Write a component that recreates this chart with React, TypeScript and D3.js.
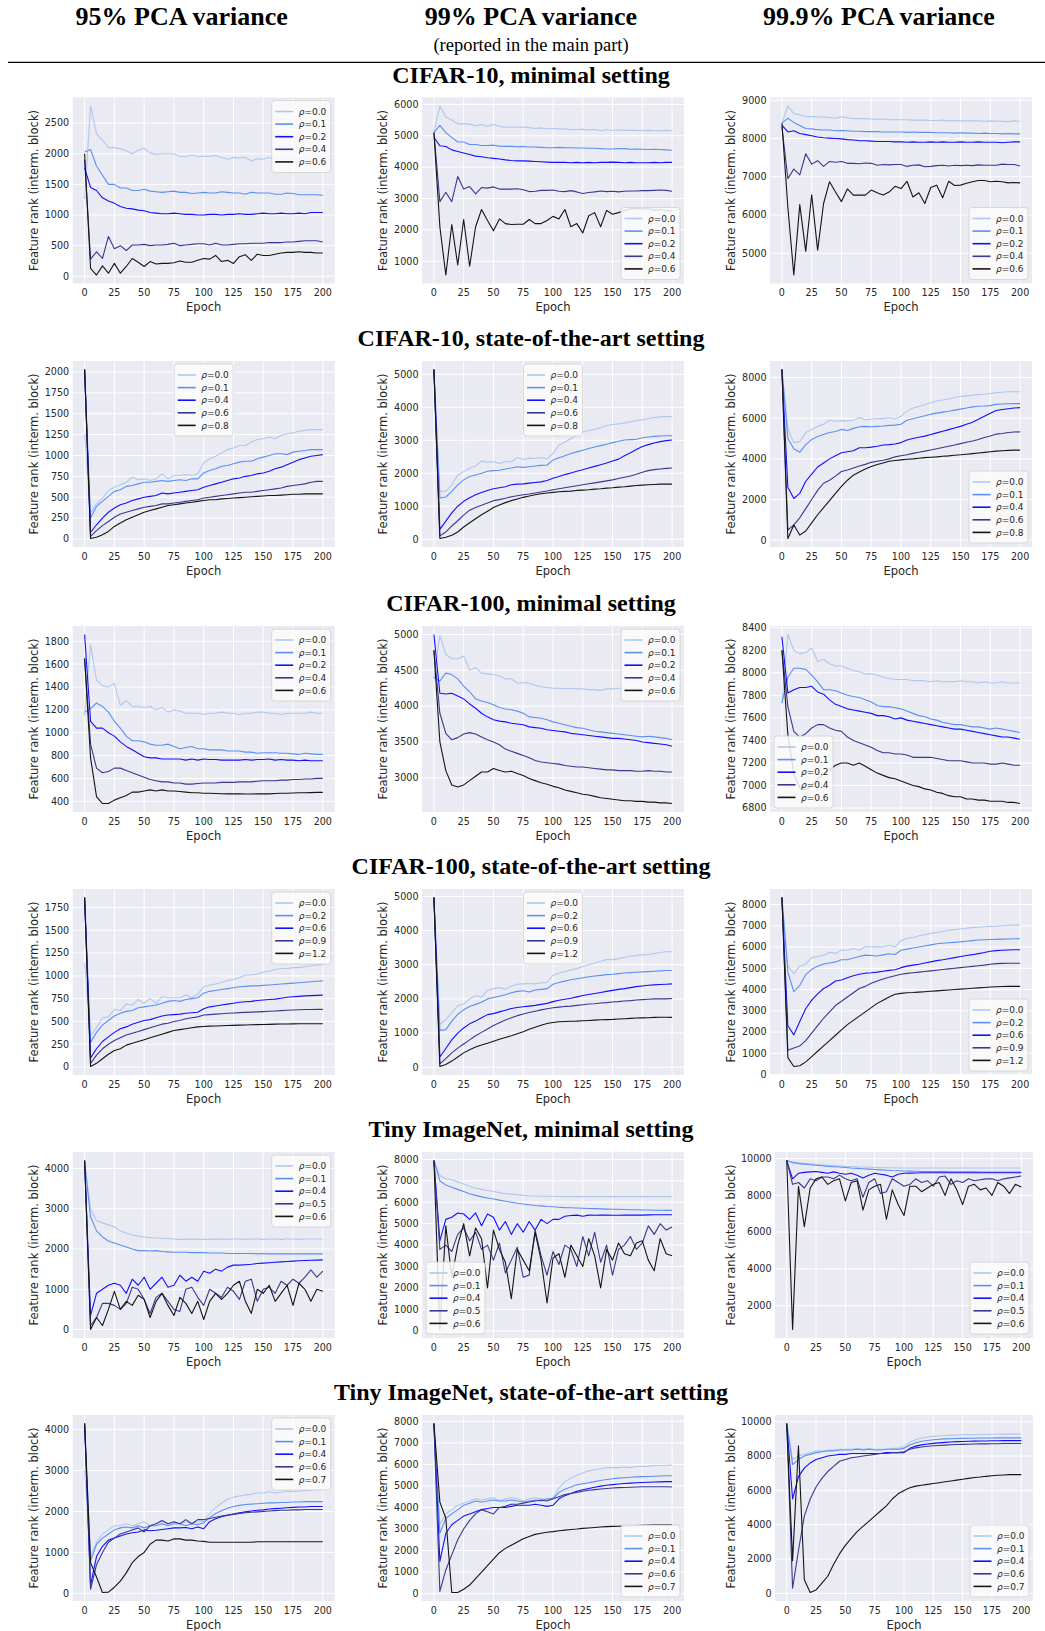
import React from "react";
import * as d3 from "d3";

// epochs at which every series below is sampled
const epochs = d3.range(0, 201, 5);
const xTicks = d3.range(0, 201, 25);

const colHeaders = ["95% PCA variance", "99% PCA variance", "99.9% PCA variance"];
const rowTitles = [
  "CIFAR-10, minimal setting",
  "CIFAR-10, state-of-the-art setting",
  "CIFAR-100, minimal setting",
  "CIFAR-100, state-of-the-art setting",
  "Tiny ImageNet, minimal setting",
  "Tiny ImageNet, state-of-the-art setting",
];
const rhoLabels = [
  ["0.0", "0.1", "0.2", "0.4", "0.6"],
  ["0.0", "0.1", "0.4", "0.6", "0.8"],
  ["0.0", "0.1", "0.2", "0.4", "0.6"],
  ["0.0", "0.2", "0.6", "0.9", "1.2"],
  ["0.0", "0.1", "0.4", "0.5", "0.6"],
  ["0.0", "0.1", "0.4", "0.6", "0.7"],
];
const lineColors = ["#aec8ef", "#5a90f2", "#1010ff", "#383892", "#151515"];

// ---- CIFAR-10 minimal ----
const c10Min95 = [
  [1260,2780,2330,2220,2100,2100,2080,2050,2000,2060,2090,2010,1990,2000,2000,2000,1960,1950,1980,1950,1960,1960,1970,1940,1910,1940,1930,1940,1880,1920,1910,1940,1920,1920,1910,1920,1910,1920,1910,1920,1920],
  [2030,2070,1800,1650,1500,1500,1440,1440,1400,1400,1420,1390,1380,1370,1380,1390,1370,1370,1350,1360,1370,1360,1360,1380,1370,1360,1360,1340,1370,1360,1360,1360,1340,1340,1360,1350,1330,1330,1330,1330,1320],
  [1770,1450,1400,1280,1230,1190,1140,1110,1100,1080,1070,1040,1030,1020,1020,1030,1020,1010,1010,1000,1000,1010,1010,1000,1010,1010,1020,1010,1010,1020,1030,1020,1020,1030,1020,1020,1030,1020,1040,1040,1040],
  [1900,280,400,290,650,450,500,420,510,510,520,500,510,510,520,540,500,510,520,530,530,510,540,510,510,520,530,530,540,540,540,550,550,550,560,560,570,580,580,580,560],
  [2000,130,20,170,50,210,50,160,290,230,160,240,200,210,210,220,250,230,230,260,290,280,340,240,260,210,320,350,260,360,340,340,360,380,390,390,400,390,390,380,380],
];
const c10Min99 = [
  [5100,5950,5600,5500,5380,5380,5370,5320,5360,5300,5360,5300,5270,5280,5270,5280,5260,5230,5250,5220,5240,5220,5220,5190,5200,5210,5180,5200,5160,5190,5170,5190,5170,5180,5170,5160,5170,5160,5160,5170,5160],
  [5100,5330,5100,4950,4800,4800,4720,4720,4690,4690,4700,4670,4660,4660,4650,4660,4640,4640,4630,4620,4620,4630,4620,4620,4610,4610,4600,4600,4590,4580,4580,4590,4590,4570,4580,4570,4560,4570,4560,4550,4540],
  [4950,4680,4660,4550,4500,4450,4400,4350,4330,4300,4280,4260,4230,4210,4200,4200,4190,4180,4170,4160,4150,4150,4150,4140,4150,4140,4150,4140,4150,4150,4160,4150,4140,4150,4140,4140,4140,4150,4140,4150,4150],
  [5100,2900,3200,2900,3700,3300,3380,3150,3350,3330,3370,3300,3300,3300,3310,3280,3220,3230,3260,3260,3270,3230,3220,3250,3210,3160,3190,3210,3240,3220,3230,3210,3230,3240,3240,3250,3250,3260,3270,3260,3230],
  [5100,2100,560,2170,880,2330,840,2100,2650,2300,1970,2350,2200,2170,2180,2180,2330,2200,2200,2300,2430,2350,2650,2100,2200,1900,2450,2550,2100,2620,2500,2550,2620,2670,2680,2670,2680,2630,2650,2620,2600],
];
const c10Min999 = [
  [8400,8850,8650,8620,8570,8570,8560,8560,8550,8530,8570,8540,8520,8520,8520,8510,8500,8510,8490,8490,8490,8490,8480,8480,8480,8470,8470,8480,8460,8470,8460,8460,8460,8460,8450,8460,8450,8450,8440,8460,8450],
  [8400,8530,8420,8340,8260,8250,8230,8220,8220,8200,8210,8200,8190,8190,8180,8180,8180,8170,8170,8170,8170,8160,8170,8160,8160,8160,8150,8150,8150,8140,8150,8140,8140,8130,8140,8130,8130,8120,8130,8120,8120],
  [8350,8170,8200,8130,8100,8070,8040,8020,8010,8000,7990,7970,7960,7940,7940,7930,7920,7920,7920,7910,7910,7900,7910,7900,7900,7910,7900,7910,7900,7900,7910,7900,7900,7910,7900,7900,7900,7890,7900,7910,7910],
  [8300,6950,7200,7050,7600,7330,7420,7270,7400,7380,7400,7350,7350,7340,7360,7350,7300,7320,7310,7320,7320,7270,7300,7310,7260,7270,7290,7300,7280,7300,7290,7300,7290,7310,7300,7300,7300,7330,7320,7320,7280],
  [8400,6200,4430,6270,5050,6530,5080,6300,6870,6600,6350,6680,6520,6520,6520,6650,6580,6520,6600,6750,6690,6880,6470,6580,6300,6720,6780,6450,6880,6770,6780,6830,6870,6900,6900,6870,6880,6870,6840,6850,6840],
];

// ---- CIFAR-10 state-of-the-art ----
const c10Sota95 = [
  [1250,310,420,490,580,620,650,680,740,710,720,700,720,780,720,760,760,770,760,780,910,960,990,1030,1070,1090,1120,1120,1160,1190,1200,1220,1200,1240,1260,1270,1290,1300,1310,1310,1310],
  [2030,250,390,450,510,570,590,630,640,660,680,680,690,700,690,700,710,700,720,720,790,820,840,870,880,900,920,930,930,960,980,1000,1020,1020,1010,1040,1050,1060,1070,1070,1070],
  [2030,80,170,250,320,370,410,430,460,480,500,510,520,550,540,550,560,570,580,590,620,640,660,680,700,720,730,750,760,780,790,810,840,860,890,920,950,970,990,1000,1010],
  [2030,30,100,160,210,260,300,320,340,360,380,390,400,420,420,430,440,450,460,470,490,500,510,520,530,540,550,560,560,570,580,590,600,610,630,640,650,660,680,690,690],
  [2030,5,20,50,90,150,190,230,260,290,320,340,360,380,400,410,420,430,440,450,460,470,470,480,485,490,495,500,505,510,515,520,520,525,530,535,535,540,540,540,540],
];
const c10Sota99 = [
  [5150,1450,1450,1650,1950,2050,2150,2220,2370,2330,2350,2300,2350,2350,2480,2420,2460,2450,2480,2440,2600,2850,2950,3050,3150,3250,3300,3330,3380,3450,3480,3500,3530,3560,3600,3620,3660,3690,3710,3720,3720],
  [5150,1250,1280,1450,1650,1800,1900,1950,2000,2060,2080,2090,2130,2160,2200,2180,2200,2220,2240,2250,2400,2470,2530,2600,2650,2700,2750,2800,2840,2880,2930,2970,3010,3020,3030,3080,3100,3120,3130,3140,3140],
  [5150,300,550,800,1000,1150,1260,1350,1420,1480,1530,1560,1590,1650,1670,1680,1700,1720,1740,1780,1850,1900,1960,2010,2060,2110,2160,2210,2260,2310,2370,2430,2530,2620,2720,2810,2870,2920,2960,2990,3010],
  [5150,100,220,400,560,730,880,960,1030,1100,1170,1200,1240,1290,1320,1350,1370,1400,1430,1460,1500,1530,1560,1590,1620,1650,1680,1710,1740,1770,1800,1840,1880,1920,1970,2030,2080,2110,2130,2150,2160],
  [5150,20,60,120,220,370,500,620,740,850,960,1040,1110,1170,1220,1270,1310,1350,1380,1400,1420,1440,1450,1460,1480,1490,1500,1520,1530,1550,1560,1580,1590,1610,1630,1640,1650,1660,1670,1670,1670],
];
const c10Sota999 = [
  [8400,5500,4800,4850,5300,5450,5600,5700,5900,5850,5880,5860,5900,6030,5920,5960,5980,5980,6020,5960,6100,6350,6500,6580,6680,6760,6850,6900,6950,7020,7070,7100,7130,7160,7180,7220,7260,7280,7300,7300,7300],
  [8400,5000,4500,4330,4700,4950,5100,5200,5300,5350,5450,5400,5500,5580,5600,5580,5600,5620,5650,5660,5700,5900,5970,6050,6120,6200,6250,6300,6340,6400,6450,6500,6560,6590,6600,6620,6680,6700,6710,6720,6720],
  [8400,2600,2050,2300,2900,3250,3600,3800,4000,4150,4300,4350,4400,4550,4550,4580,4620,4680,4700,4730,4800,4930,5000,5060,5120,5200,5280,5360,5440,5520,5600,5700,5800,5950,6100,6250,6380,6430,6470,6500,6520],
  [8400,500,750,1100,1550,2000,2450,2800,2950,3150,3380,3450,3550,3650,3730,3830,3880,3930,4000,4100,4150,4200,4270,4330,4380,4440,4500,4560,4620,4680,4750,4820,4880,4950,5050,5130,5220,5250,5300,5320,5330],
  [8400,80,750,250,450,850,1250,1600,1950,2300,2650,2950,3200,3350,3500,3620,3720,3800,3880,3920,3950,3980,4000,4030,4060,4080,4100,4130,4150,4180,4200,4230,4260,4290,4320,4350,4380,4400,4420,4430,4430],
];

// ---- CIFAR-100 minimal ----
const c100Min95 = [
  [1150,1770,1460,1410,1400,1430,1240,1280,1230,1230,1220,1230,1200,1220,1180,1200,1190,1170,1170,1170,1160,1170,1170,1180,1170,1170,1160,1170,1170,1180,1180,1170,1170,1160,1170,1170,1170,1170,1180,1170,1170],
  [1180,1210,1260,1230,1180,1100,1040,970,930,930,920,900,890,890,900,880,860,870,880,860,860,850,850,850,840,840,840,830,830,820,825,825,825,820,820,815,810,820,815,810,810],
  [1860,1100,1040,1040,1000,970,920,880,850,820,790,780,780,770,770,770,770,760,770,760,770,765,765,760,760,760,760,765,760,765,765,770,760,765,760,760,755,760,755,755,755],
  [1650,900,690,650,660,690,690,670,650,630,610,590,580,570,570,560,560,550,550,555,560,560,560,565,565,565,570,570,570,575,580,580,580,585,585,590,590,595,595,600,600],
  [1650,780,440,380,380,410,430,450,480,480,490,500,490,500,490,490,485,480,475,475,470,470,468,466,465,465,465,463,463,465,465,465,468,470,470,472,474,475,476,478,478],
];
const c100Min99 = [
  [4380,4990,4720,4660,4660,4700,4500,4540,4460,4450,4440,4420,4380,4380,4320,4330,4320,4290,4270,4260,4250,4250,4240,4250,4240,4240,4230,4230,4220,4240,4240,4250,4250,4250,4250,4250,4250,4250,4250,4250,4250],
  [4400,4350,4460,4440,4380,4280,4200,4100,4070,4050,4020,3980,3960,3950,3930,3900,3850,3840,3830,3810,3780,3760,3740,3720,3700,3690,3670,3650,3640,3630,3620,3610,3600,3590,3580,3570,3580,3570,3560,3550,3530],
  [5000,4180,4170,4180,4140,4100,4030,3970,3900,3850,3810,3790,3780,3760,3750,3740,3710,3700,3690,3670,3660,3650,3640,3620,3610,3600,3590,3580,3570,3560,3550,3550,3540,3530,3520,3500,3490,3480,3470,3460,3440],
  [4780,3900,3620,3530,3560,3610,3630,3610,3570,3530,3500,3460,3400,3370,3340,3310,3280,3240,3220,3210,3200,3190,3170,3160,3150,3150,3140,3130,3120,3110,3110,3100,3100,3100,3090,3090,3100,3090,3090,3080,3080],
  [4780,3500,3100,2900,2870,2900,2960,3020,3080,3080,3130,3100,3080,3090,3060,3030,2990,2960,2930,2910,2880,2860,2830,2810,2790,2770,2760,2740,2720,2710,2700,2690,2680,2680,2670,2670,2660,2660,2650,2650,2640],
];
const c100Min999 = [
  [7730,8340,8200,8170,8180,8220,8100,8120,8080,8060,8060,8040,8020,8010,7990,7990,7980,7960,7950,7940,7940,7940,7930,7930,7930,7920,7930,7920,7920,7920,7930,7920,7920,7910,7920,7910,7910,7920,7910,7910,7910],
  [7730,7960,8040,8040,8030,7980,7920,7850,7850,7840,7820,7800,7790,7780,7760,7740,7710,7700,7700,7690,7680,7660,7640,7620,7610,7590,7580,7560,7550,7540,7540,7530,7520,7520,7510,7500,7510,7500,7490,7480,7470],
  [8320,7820,7850,7870,7870,7880,7830,7810,7760,7720,7700,7680,7670,7660,7650,7640,7620,7620,7610,7590,7600,7580,7570,7560,7550,7540,7530,7520,7510,7500,7500,7490,7480,7470,7460,7450,7440,7430,7430,7420,7410],
  [8200,7700,7480,7430,7460,7510,7540,7540,7510,7490,7480,7430,7400,7380,7360,7340,7310,7290,7290,7280,7280,7270,7250,7250,7250,7250,7240,7230,7220,7220,7220,7210,7200,7200,7200,7190,7190,7200,7190,7180,7180],
  [8200,7450,7100,6980,6960,7000,7060,7100,7140,7180,7200,7200,7180,7200,7170,7140,7110,7090,7070,7060,7040,7020,7000,6990,6970,6960,6940,6930,6910,6900,6900,6880,6880,6870,6870,6860,6860,6860,6850,6850,6840],
];

// ---- CIFAR-100 state-of-the-art ----
const c100Sota95 = [
  [1140,340,430,540,550,630,620,690,680,740,700,750,700,770,760,760,760,790,760,800,880,900,910,930,950,960,980,1010,1010,1020,1040,1050,1070,1080,1080,1090,1090,1100,1110,1120,1120],
  [1860,270,380,460,510,560,590,610,620,650,660,670,680,700,720,730,720,740,750,760,810,830,840,850,860,870,880,885,890,890,895,900,905,910,915,920,925,930,935,940,945],
  [1860,100,200,280,330,380,420,440,470,490,510,520,540,560,570,575,580,590,595,600,640,660,670,680,690,700,710,715,720,730,735,740,745,755,765,770,775,780,783,786,788],
  [1860,40,130,200,250,290,320,350,370,390,410,430,450,470,480,500,510,530,540,550,570,575,580,585,590,593,596,599,602,605,608,611,614,618,622,626,628,630,631,632,632],
  [1860,5,40,90,140,180,200,240,260,280,300,320,340,360,380,400,410,420,430,440,445,448,450,452,455,457,459,461,463,465,467,468,470,471,472,473,474,474,475,475,475],
];
const c100Sota99 = [
  [4970,1250,1400,1600,1800,1850,2000,2100,2050,2250,2300,2330,2280,2380,2430,2440,2450,2440,2470,2480,2700,2750,2800,2850,2880,2950,3000,3050,3100,3150,3150,3180,3220,3250,3280,3290,3300,3330,3360,3380,3380],
  [4970,1080,1100,1350,1550,1680,1780,1840,1900,2000,2040,2080,2120,2180,2220,2240,2200,2260,2280,2300,2430,2480,2520,2560,2590,2620,2650,2670,2690,2710,2720,2740,2760,2770,2780,2790,2800,2810,2820,2830,2830],
  [4970,300,550,800,1000,1150,1270,1350,1450,1540,1570,1620,1670,1720,1750,1770,1790,1810,1840,1870,1920,1960,1990,2020,2060,2100,2130,2160,2190,2220,2250,2280,2300,2330,2360,2380,2400,2410,2420,2430,2440],
  [4970,100,250,420,560,680,800,920,1020,1120,1220,1300,1380,1450,1510,1560,1600,1640,1680,1710,1740,1760,1780,1790,1810,1830,1850,1860,1880,1890,1910,1920,1940,1950,1970,1980,1990,2000,2000,2000,2010],
  [4970,20,80,180,300,420,510,590,650,700,760,820,870,920,980,1040,1110,1170,1230,1280,1310,1330,1340,1345,1350,1360,1370,1380,1390,1395,1400,1410,1420,1430,1440,1445,1450,1460,1465,1465,1460],
];
const c100Sota999 = [
  [8330,5100,4750,5100,5200,5500,5550,5600,5750,5700,5850,5850,5930,5850,6020,6000,6020,6000,6080,6000,6300,6400,6450,6530,6580,6640,6680,6730,6790,6820,6850,6880,6910,6930,6950,6970,6980,7000,7020,7030,7030],
  [8330,4800,3900,4200,4700,4950,5100,5200,5250,5300,5400,5400,5480,5550,5620,5600,5580,5630,5680,5650,5850,5900,5950,6000,6050,6100,6150,6180,6200,6220,6240,6270,6300,6330,6340,6350,6360,6370,6380,6390,6390],
  [8330,2300,1870,2500,3100,3500,3800,4050,4200,4400,4450,4550,4650,4720,4770,4790,4820,4860,4900,4930,5030,5100,5150,5190,5250,5300,5360,5400,5450,5500,5550,5600,5640,5690,5740,5800,5830,5850,5860,5870,5870],
  [8330,1150,1250,1350,1600,1950,2300,2650,2950,3250,3450,3650,3850,4050,4150,4300,4400,4500,4580,4650,4720,4760,4790,4820,4850,4880,4910,4940,4970,5000,5030,5060,5090,5120,5150,5190,5220,5230,5240,5240,5240],
  [8330,800,380,420,600,850,1100,1350,1600,1850,2100,2350,2550,2750,2950,3150,3350,3500,3650,3780,3820,3850,3860,3880,3900,3920,3940,3960,3980,4000,4020,4040,4060,4080,4100,4120,4130,4140,4150,4150,4150],
];

// ---- Tiny ImageNet minimal ----
const tinMin95 = [
  [4150,3000,2700,2650,2600,2550,2450,2400,2350,2320,2300,2280,2280,2260,2260,2250,2240,2240,2250,2240,2240,2250,2240,2250,2240,2250,2250,2240,2250,2250,2240,2250,2250,2240,2250,2250,2240,2250,2250,2250,2250],
  [4150,2800,2450,2300,2200,2150,2100,2050,2000,1960,1960,1950,1960,1940,1930,1920,1920,1920,1910,1910,1910,1900,1900,1900,1890,1890,1890,1890,1890,1880,1890,1880,1880,1880,1880,1880,1880,1880,1880,1880,1880],
  [4200,350,900,1000,1100,1150,1100,900,1250,1100,1300,1000,1150,1300,1050,1100,1350,1200,1300,1200,1450,1400,1500,1450,1550,1600,1600,1610,1620,1640,1650,1660,1670,1680,1690,1700,1710,1715,1720,1725,1730],
  [4200,100,300,650,650,600,500,650,1050,1000,750,400,800,900,700,500,450,1000,1050,800,600,1000,900,800,1050,950,750,1200,1250,700,1000,1050,900,1200,1100,1250,1150,1300,1480,1300,1450],
  [4200,0,300,100,500,950,500,700,600,850,750,300,700,900,600,350,800,650,400,700,250,700,900,750,900,1100,1200,700,400,1000,900,1100,700,900,1100,600,1150,1000,700,1000,950],
];
const tinMin99 = [
  [7950,7250,7100,7050,6950,6850,6750,6650,6600,6550,6500,6450,6400,6380,6350,6320,6300,6290,6280,6280,6270,6270,6260,6260,6260,6260,6260,6260,6260,6260,6260,6260,6260,6260,6260,6260,6260,6260,6260,6260,6260],
  [7950,7000,6800,6700,6600,6500,6400,6320,6250,6200,6150,6100,6050,6000,5950,5920,5880,5850,5830,5800,5790,5770,5750,5740,5730,5720,5710,5700,5690,5680,5670,5670,5660,5650,5650,5640,5640,5630,5630,5620,5620],
  [7950,4200,5200,5300,5500,5450,5200,5500,4900,5450,5300,4700,5100,4500,5000,4600,5100,4700,5200,5000,5200,5200,5350,5380,5400,5350,5400,5390,5400,5400,5390,5390,5400,5400,5400,5400,5410,5420,5420,5420,5420],
  [7950,3800,4000,3700,4500,4800,4200,4600,3800,4000,3300,4100,2700,3300,3900,2500,2600,4700,3500,2600,3700,3100,4000,3800,3000,4400,3500,4600,3200,4000,2600,3800,4000,4400,3800,4100,4900,4500,5000,4700,4850],
  [7950,60,4900,2500,4000,5000,3500,4800,4300,2000,4700,3800,3200,1500,3800,3300,2800,4600,3300,1300,3400,3600,2500,4000,3500,3000,4300,3500,2000,3800,3300,4100,3600,3500,4100,4200,3300,2800,4300,3600,3500],
];
const tinMin999 = [
  [9900,9820,9780,9750,9720,9690,9660,9640,9620,9600,9580,9570,9550,9540,9530,9520,9510,9500,9500,9490,9490,9490,9490,9490,9490,9490,9490,9490,9490,9490,9490,9490,9490,9490,9490,9490,9490,9490,9490,9490,9490],
  [9900,9780,9730,9700,9670,9640,9610,9580,9560,9540,9520,9490,9470,9450,9430,9410,9390,9370,9350,9340,9330,9320,9310,9300,9300,9290,9290,9290,9280,9280,9280,9280,9280,9270,9270,9270,9270,9270,9270,9270,9270],
  [9900,8900,9200,9250,9280,9300,9250,9200,9280,9200,9150,9200,9100,8950,9100,9200,9150,9100,9000,9150,9200,9210,9220,9230,9230,9230,9230,9230,9230,9230,9230,9230,9230,9230,9230,9230,9230,9230,9230,9230,9230],
  [9900,8600,8700,8400,8900,8800,9000,9000,8900,9100,8900,8800,8900,7900,8700,8900,8100,8200,8900,8700,8500,8600,8900,8700,8800,8500,9000,9050,8600,8800,8700,8900,8800,8850,8900,8900,8800,8900,8950,9000,9050],
  [9900,700,8500,6300,8400,8900,9000,8600,8800,8900,7700,8700,8800,7200,8300,8500,8600,6700,8300,7500,6900,8500,8500,8200,8400,8600,8700,8000,8900,8300,7500,8500,8600,8300,8400,8000,8700,8500,8100,8600,8450],
];

// ---- Tiny ImageNet state-of-the-art ----
const tinSota95 = [
  [3000,900,1250,1450,1550,1650,1650,1700,1650,1700,1750,1650,1700,1750,1700,1750,1700,1750,1700,1750,1750,1950,2100,2200,2300,2350,2380,2400,2420,2450,2450,2480,2450,2470,2500,2480,2500,2510,2520,2540,2540],
  [4150,800,1200,1350,1450,1550,1600,1620,1600,1650,1600,1650,1650,1700,1650,1700,1700,1650,1700,1680,1720,1850,1950,2020,2080,2120,2150,2170,2180,2190,2200,2210,2210,2220,2220,2230,2230,2240,2240,2240,2240],
  [4150,200,900,1150,1300,1350,1400,1450,1480,1500,1550,1530,1540,1560,1580,1600,1600,1610,1580,1620,1580,1750,1820,1870,1910,1940,1970,1990,2010,2030,2040,2060,2070,2080,2090,2100,2110,2110,2120,2120,2120],
  [4150,100,700,1000,1250,1350,1450,1500,1550,1600,1500,1650,1700,1780,1700,1750,1700,1800,1700,1800,1800,1830,1860,1890,1910,1930,1950,1970,1980,1990,2000,2010,2020,2030,2030,2040,2040,2050,2050,2050,2050],
  [4150,750,400,20,30,150,300,500,750,900,1000,1200,1300,1300,1280,1330,1330,1300,1300,1280,1270,1250,1250,1250,1250,1250,1250,1250,1250,1260,1260,1260,1260,1260,1260,1260,1260,1260,1260,1260,1260],
];
const tinSota99 = [
  [7900,3200,3700,3900,4100,4200,4300,4400,4350,4400,4450,4300,4400,4450,4400,4300,4400,4450,4400,4350,4450,4900,5200,5350,5500,5600,5700,5750,5800,5850,5850,5850,5880,5850,5900,5900,5920,5950,5950,5960,5970],
  [7900,2800,3500,3700,3900,4100,4200,4300,4250,4300,4350,4300,4300,4350,4300,4250,4300,4350,4300,4400,4400,4700,4850,4950,5050,5100,5150,5200,5250,5300,5330,5360,5380,5400,5420,5430,5440,5450,5460,5470,5470],
  [7900,1500,2800,3200,3400,3600,3700,3800,3900,3950,4000,4000,4000,4050,4100,4100,4100,4150,4100,4050,4100,4400,4550,4650,4750,4820,4880,4940,4990,5030,5060,5090,5110,5130,5150,5160,5170,5180,5190,5200,5200],
  [7900,100,1100,1800,2500,3000,3400,3700,3900,3800,3700,4000,4050,4150,4150,4200,4250,4300,4350,4300,4400,4500,4600,4650,4700,4750,4800,4830,4860,4880,4900,4920,4930,4940,4950,4960,4960,4960,4960,4960,4950],
  [7900,4250,3500,50,50,200,400,700,1000,1300,1600,1900,2100,2250,2400,2550,2650,2750,2800,2850,2880,2920,2950,2980,3000,3030,3050,3070,3090,3110,3120,3130,3140,3150,3160,3170,3180,3190,3190,3190,3190],
];
const tinSota999 = [
  [9900,7800,8000,8100,8200,8300,8300,8350,8350,8400,8400,8400,8450,8400,8450,8400,8400,8400,8450,8450,8550,8800,8950,9050,9100,9150,9180,9200,9220,9230,9240,9250,9250,9260,9260,9270,9270,9280,9280,9280,9280],
  [9900,7500,7800,8000,8100,8200,8250,8300,8300,8350,8350,8350,8400,8350,8400,8350,8350,8400,8400,8400,8450,8650,8780,8860,8910,8950,8980,9000,9010,9020,9030,9040,9040,9050,9050,9050,9060,9060,9060,9060,9060],
  [9900,5500,6800,7300,7600,7800,7900,8000,8050,8100,8100,8150,8150,8150,8150,8150,8150,8200,8200,8200,8200,8450,8580,8650,8700,8740,8770,8800,8820,8840,8850,8860,8870,8880,8880,8890,8890,8900,8900,8900,8900],
  [9900,300,2500,4500,5500,6200,6700,7100,7400,7700,7800,7900,7950,8000,8050,8100,8150,8150,8200,8200,8250,8400,8480,8530,8570,8600,8620,8640,8660,8670,8680,8690,8700,8710,8710,8720,8720,8730,8730,8730,8730],
  [9900,1900,8600,800,50,200,600,1000,1700,2300,2800,3200,3600,3900,4200,4500,4800,5100,5500,5800,6000,6150,6250,6300,6350,6400,6450,6500,6550,6600,6650,6700,6750,6780,6820,6850,6880,6900,6920,6920,6920],
];

// y tick labels per panel (row-major)
const yTickSets = [
  [[0, 500, 1000, 1500, 2000, 2500], [1000, 2000, 3000, 4000, 5000, 6000], [5000, 6000, 7000, 8000, 9000]],
  [[0, 250, 500, 750, 1000, 1250, 1500, 1750, 2000], [0, 1000, 2000, 3000, 4000, 5000], [0, 2000, 4000, 6000, 8000]],
  [[400, 600, 800, 1000, 1200, 1400, 1600, 1800], [3000, 3500, 4000, 4500, 5000], [6800, 7000, 7200, 7400, 7600, 7800, 8000, 8200, 8400]],
  [[0, 250, 500, 750, 1000, 1250, 1500, 1750], [0, 1000, 2000, 3000, 4000, 5000], [0, 1000, 2000, 3000, 4000, 5000, 6000, 7000, 8000]],
  [[0, 1000, 2000, 3000, 4000], [0, 1000, 2000, 3000, 4000, 5000, 6000, 7000, 8000], [2000, 4000, 6000, 8000, 10000]],
  [[0, 1000, 2000, 3000, 4000], [0, 1000, 2000, 3000, 4000, 5000, 6000, 7000, 8000], [0, 2000, 4000, 6000, 8000, 10000]],
];
const legendSpots = [
  ["ur", "lr", "lr"],
  ["uc", "uc", "lr"],
  ["ur", "ur", "ll"],
  ["ur", "uc", "lr"],
  ["ur", "ll", "lr"],
  ["ur", "lr", "lr"],
];
const panelSeries = [
  [c10Min95, c10Min99, c10Min999],
  [c10Sota95, c10Sota99, c10Sota999],
  [c100Min95, c100Min99, c100Min999],
  [c100Sota95, c100Sota99, c100Sota999],
  [tinMin95, tinMin99, tinMin999],
  [tinSota95, tinSota99, tinSota999],
];

const W = 1045;
const H = 1631;
const colLeft = [72.7, 422, 770];
const rowTop = [97.5, 361, 626, 889, 1152, 1415];
const plotW = 262;
const plotH = 186;
const ink = "#262626";
const sans = "DejaVu Sans, sans-serif";
const serif = "Liberation Serif, Times New Roman, serif";

const LW = 59;
const LH = 72;

function Legend({ lx, ly, labels }) {
  return (
    <g transform={`translate(${lx},${ly})`}>
      <rect width={LW} height={LH} rx={3} fill="#fbfbfc" fillOpacity={0.85} stroke="#d0d0d0" strokeWidth={0.8} />
      {labels.map((lab, i) => {
        const yy = 11 + i * 12.6;
        return (
          <g key={i}>
            <line x1={3.5} x2={21.5} y1={yy} y2={yy} stroke={lineColors[i]} strokeWidth={1.6} />
            <text x={27} y={yy} dy="0.35em" fontSize={9} fontFamily={sans} fill={ink}>
              <tspan fontStyle="italic">ρ</tspan>={lab}
            </text>
          </g>
        );
      })}
    </g>
  );
}

function Panel({ r, c }) {
  const series = panelSeries[r][c];
  const yTicks = yTickSets[r][c];
  const wide = d3.max(yTicks) >= 10000;
  const x0 = colLeft[c] + (wide ? 5 : 0);
  const w = plotW - (wide ? 4 : 0);
  const top = rowTop[r];
  const [lo, hi] = d3.extent(series.flat());
  const pad = (hi - lo) * 0.05;
  const x = d3.scaleLinear().domain([-10, 210]).range([x0, x0 + w]);
  const y = d3.scaleLinear().domain([lo - pad, hi + pad]).range([top + plotH, top]);
  const line = d3
    .line()
    .x((_, i) => x(epochs[i]))
    .y((d) => y(d));

  const spot = legendSpots[r][c];
  let lx = x0 + w - 4 - LW;
  let ly = top + 3;
  if (spot === "lr" || spot === "ll") ly = top + plotH - 4 - LH;
  if (spot === "ll") lx = x0 + 4;
  if (spot === "uc") lx = x0 + w / 2 - LW / 2;

  return (
    <g>
      <rect x={x0} y={top} width={w} height={plotH} fill="#eaeaf2" />
      {xTicks.map((t) => (
        <line key={"gx" + t} x1={x(t)} x2={x(t)} y1={top} y2={top + plotH} stroke="#fff" strokeWidth={1} />
      ))}
      {yTicks.map((t) => (
        <line key={"gy" + t} x1={x0} x2={x0 + w} y1={y(t)} y2={y(t)} stroke="#fff" strokeWidth={1} />
      ))}
      {series.map((s, i) => (
        <path key={i} d={line(s)} fill="none" stroke={lineColors[i]} strokeWidth={1.1} strokeLinejoin="round" />
      ))}
      {xTicks.map((t) => (
        <text key={"tx" + t} x={x(t)} y={top + plotH + 12.5} textAnchor="middle" fontSize={9.6} fontFamily={sans} fill={ink}>
          {t}
        </text>
      ))}
      {yTicks.map((t) => (
        <text key={"ty" + t} x={x0 - 3.5} y={y(t)} dy="0.35em" textAnchor="end" fontSize={9.6} fontFamily={sans} fill={ink}>
          {t}
        </text>
      ))}
      <text x={x0 + w / 2} y={top + plotH + 27.5} textAnchor="middle" fontSize={11.5} fontFamily={sans} fill={ink}>
        Epoch
      </text>
      <text
        transform={`translate(${colLeft[c] - 39},${top + plotH / 2}) rotate(-90)`}
        dy="0.35em"
        textAnchor="middle"
        fontSize={11.5}
        fontFamily={sans}
        fill={ink}
      >
        Feature rank (interm. block)
      </text>
      <Legend lx={lx} ly={ly} labels={rhoLabels[r]} />
    </g>
  );
}

export default function App() {
  const headerX = colLeft.map((l) => l + plotW / 2 - 22);
  return (
    <svg width={W} height={H} style={{ position: "absolute", left: 0, top: 0, background: "#fff" }}>
      {colHeaders.map((h, i) => (
        <text key={h} x={headerX[i]} y={24.5} textAnchor="middle" fontSize={26} fontWeight="bold" fontFamily={serif} fill="#000">
          {h}
        </text>
      ))}
      <text x={headerX[1]} y={50.5} textAnchor="middle" fontSize={18.5} fontFamily={serif} fill="#000">
        (reported in the main part)
      </text>
      <line x1={8} x2={W} y1={62.3} y2={62.3} stroke="#000" strokeWidth={1.2} />
      {rowTitles.map((t, r) => (
        <text key={t} x={headerX[1]} y={rowTop[r] - 15} textAnchor="middle" fontSize={24} fontWeight="bold" fontFamily={serif} fill="#000">
          {t}
        </text>
      ))}
      {rowTitles.map((_, r) => [0, 1, 2].map((c) => <Panel key={r + "-" + c} r={r} c={c} />))}
    </svg>
  );
}
